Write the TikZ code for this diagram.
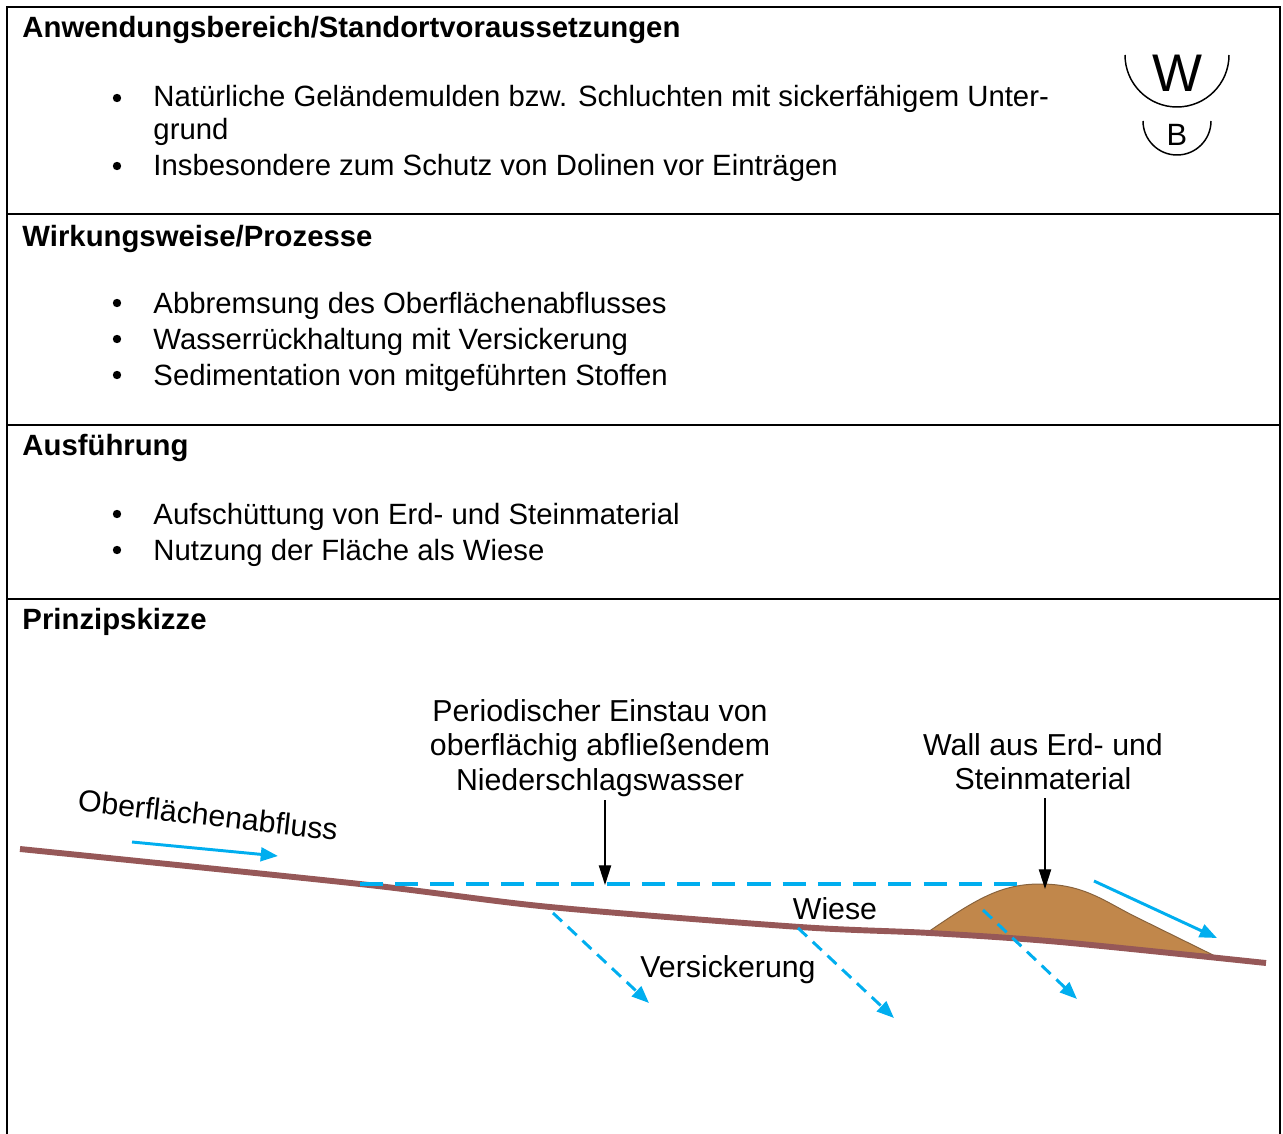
\documentclass[tikz,border=0pt]{standalone}
\usepackage{fontspec}
\setmainfont{Liberation Sans}
\usetikzlibrary{arrows.meta}
\definecolor{watercol}{RGB}{0,174,239}
\definecolor{groundcol}{RGB}{150,88,88}
\definecolor{wallcol}{RGB}{193,135,75}
\definecolor{walledge}{RGB}{135,98,60}

\begin{document}
\begin{tikzpicture}[x=0.406pt,y=-0.406pt,>=Stealth,
  font=\fontsize{11.9}{13.4}\selectfont,
  rule/.style={line width=0.8pt},
  head/.style={anchor=base west,inner sep=0pt,font=\fontsize{11.9}{13.4}\selectfont\bfseries},
  item/.style={anchor=base west,inner sep=0pt,align=left},
  lbl/.style={inner sep=0pt,align=center,font=\fontsize{12.3}{13.9}\selectfont},
  flow/.style={watercol,line width=1.2pt,-{Triangle[length=7pt,width=5.5pt]}},
  seep/.style={flow,dash pattern=on 5pt off 3.2pt},
  pointer/.style={line width=0.5pt,-{Triangle[length=8pt,width=5pt]}}]
\useasboundingbox (0,0) rectangle (1283,1134);

% table frame, open at the bottom
\draw[rule] (7,1134) -- (7,7) -- (1280,7) -- (1280,1134);
\foreach \y in {214,425,599}
  \draw[rule] (7,\y) -- (1280,\y);

% headings
\node[head] (h1) at (22,38) {Anwendungsbereich/Standortvoraussetzungen};
\node[head] (h2) at (22,246) {Wirkungsweise/Prozesse};
\node[head] (h3) at (22,455) {Ausführung};
\node[head] (h4) at (22,629) {Prinzipskizze};

% bullet lists (base of a two-line item is its last line)
\foreach \y in {98,166,303,339,375,514,550}
  \fill (117,\y) circle[radius=4.2];
\node[item] (a1) at (153,140) {Natürliche Geländemulden bzw. Schluchten mit sickerfähigem Unter-\\grund};
\node[item] (a2) at (153,176) {Insbesondere zum Schutz von Dolinen vor Einträgen};
\node[item] (b1) at (153,313) {Abbremsung des Oberflächenabflusses};
\node[item] (b2) at (153,349) {Wasserrückhaltung mit Versickerung};
\node[item] (b3) at (153,385) {Sedimentation von mitgeführten Stoffen};
\node[item] (c1) at (153,524) {Aufschüttung von Erd- und Steinmaterial};
\node[item] (c2) at (153,560) {Nutzung der Fläche als Wiese};

% W/B mark
\node[inner sep=0pt,font=\fontsize{21.5}{24}\selectfont] (mw) at (1177,73) {W};
\draw[line width=0.6pt] (1125,55) arc[start angle=180,end angle=0,radius=52];
\node[inner sep=0pt,font=\fontsize{12.5}{15}\selectfont] (mb) at (1177,135) {B};
\draw[line width=0.6pt] (1143,121) arc[start angle=180,end angle=0,radius=34];

% sketch: wall, ground, water level
\draw[walledge,fill=wallcol,line width=0.4pt]
  (928,932) .. controls (975,900) and (1000,884) .. (1040,884)
  .. controls (1085,884) and (1105,902) .. (1138,918) -- (1213,955)
  -- (1060,942) -- cycle;
\draw[groundcol,line width=2.4pt] plot[smooth,tension=0.5] coordinates
  {(20,849) (360,884) (550,907) (800,927) (930,933) (1060,942) (1266,963)};
\draw[watercol,line width=1.3pt,dash pattern=on 9.4pt off 4.9pt] (360,884) -- (1022,884);

% labels
\node[lbl,rotate=-6.5] (abfluss) at (208,815) {Oberflächenabfluss};
\node[lbl] (einstau) at (600,748) {Periodischer Einstau von\\oberflächig abfließendem\\Niederschlagswasser};
\node[lbl] (wall) at (1043,762) {Wall aus Erd- und\\Steinmaterial};
\node[lbl] (wiese) at (835,909) {Wiese};
\node[lbl] (versick) at (728,970) {Versickerung};

\coordinate (einstauend) at (605,885);
\coordinate (wallend) at (1045,889);
\draw[pointer] (605,800) -- (einstauend);
\draw[pointer] (1045,798) -- (wallend);

% flow arrows
\draw[flow] (132,842) -- (278,856);
\draw[flow] (1094,881) -- (1217,938);
\draw[seep] (553,913) -- (649,1003);
\draw[seep] (798,928) -- (894,1018);
\draw[seep] (983,910) -- (1077,999);
\end{tikzpicture}
\end{document}
